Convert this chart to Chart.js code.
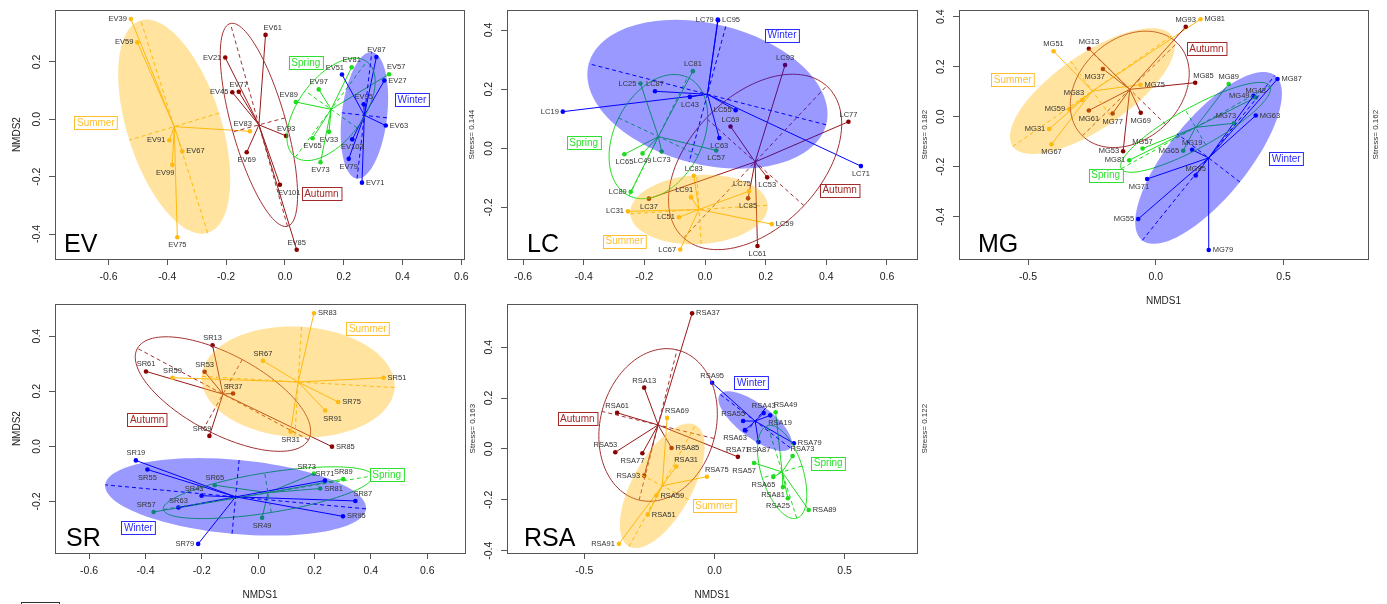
<!DOCTYPE html>
<html>
<head>
<meta charset="utf-8">
<script src="https://cdn.jsdelivr.net/npm/chart.js@4.4.0/dist/chart.umd.min.js"></script>
<style>
    body { margin: 0; background: #fff; width: 1387px; height: 604px; overflow: hidden; position: relative; }
    canvas { position: absolute; }
    #stub { position: absolute; left: 21px; top: 602px; width: 37px; height: 10px; border: 1px solid #333; }
</style>
</head>
<body>
<div id="stub"></div>
<script>
// ---- data: NMDS scores per site, season code S=Summer A=Autumn P=Spring W=Winter ----
const EV_ID = ['EV39','EV59','EV91','EV67','EV99','EV75','EV83', 'EV61','EV21','EV45','EV77','EV69','EV93','EV101','EV85',
    'EV81','EV57','EV97','EV89','EV33','EV65','EV73', 'EV87','EV27','EV51','EV95','EV63','EV103','EV79','EV71'];
const EV_X = [-0.524,-0.502,-0.393,-0.349,-0.383,-0.366,-0.119, -0.066,-0.203,-0.179,-0.157,-0.130,0.004,-0.017,0.040,
    0.227,0.354,0.115,0.037,0.150,0.094,0.121, 0.311,0.338,0.194,0.268,0.343,0.229,0.217,0.262];
const EV_Y = [0.349,0.268,-0.073,-0.112,-0.159,-0.411,-0.042, 0.294,0.215,0.094,0.096,-0.115,-0.058,-0.228,-0.455,
    0.181,0.157,0.104,0.060,-0.044,-0.066,-0.150, 0.217,0.135,0.156,0.052,-0.022,-0.070,-0.138,-0.221];
const EV_SEASON = 'SSSSSSS AAAAAAAA PPPPPPP WWWWWWWW';

const LC_ID = ['LC79','LC95','LC87','LC43','LC19','LC55','LC63','LC71', 'LC81','LC25','LC65','LC49','LC73','LC89','LC57',
    'LC83','LC91','LC31','LC51','LC67','LC75','LC59', 'LC93','LC69','LC77','LC53','LC85','LC61','LC37'];
const LC_X = [0.042,0.043,-0.165,-0.050,-0.469,0.101,0.047,0.514, -0.040,-0.213,-0.266,-0.206,-0.143,-0.245,0.037,
    -0.037,-0.046,-0.254,-0.086,-0.082,0.145,0.220, 0.264,0.084,0.473,0.205,0.142,0.173,-0.185];
const LC_Y = [0.435,0.433,0.193,0.174,0.124,0.129,0.035,-0.060, 0.261,0.219,-0.020,-0.017,-0.011,-0.147,-0.007,
    -0.093,-0.165,-0.213,-0.233,-0.342,-0.145,-0.256, 0.282,0.074,0.090,-0.098,-0.169,-0.330,-0.170];
const LC_SEASON = 'WWWWWWWW PPPPPPP SSSSSSS AAAAAAA';

const MG_ID = ['MG51','MG83','MG59','MG31','MG67','MG75','MG81', 'MG13','MG37','MG61','MG77','MG69','MG53','MG93','MG85',
    'MG57','MG81','MG89','MG65','MG43','MG73', 'MG87','MG49','MG63','MG19','MG95','MG79','MG71','MG55'];
const MG_X = [-0.400,-0.288,-0.339,-0.417,-0.408,-0.060,0.175, -0.262,-0.207,-0.262,-0.169,-0.059,-0.128,0.117,0.154,
    -0.052,-0.104,0.285,0.107,0.391,0.306, 0.476,0.382,0.391,0.142,0.156,0.207,-0.034,-0.069];
const MG_Y = [0.262,0.067,0.030,-0.049,-0.110,0.128,0.390, 0.272,0.191,0.025,0.013,0.016,-0.138,0.360,0.136,
    -0.127,-0.174,0.131,-0.136,0.077,-0.026, 0.151,0.084,0.005,-0.132,-0.235,-0.533,-0.249,-0.409];
const MG_SEASON = 'SSSSSSS AAAAAAAA PPPPPP WWWWWWWW';

const SR_ID = ['SR13','SR61','SR53','SR37','SR69','SR85', 'SR83','SR67','SR51','SR75','SR91','SR31','SR59',
    'SR73','SR89','SR65','SR81','SR57','SR49', 'SR19','SR55','SR43','SR63','SR71','SR87','SR95','SR79'];
const SR_X = [-0.162,-0.398,-0.190,-0.089,-0.173,0.262, 0.198,0.017,0.445,0.284,0.238,0.115,-0.304,
    0.198,0.302,-0.154,0.220,-0.371,0.014, -0.434,-0.393,-0.201,-0.283,0.237,0.345,0.301,-0.213];
const SR_Y = [0.367,0.272,0.271,0.192,0.038,-0.001, 0.483,0.311,0.249,0.161,0.130,0.053,0.249,
    -0.099,-0.119,-0.141,-0.153,-0.238,-0.259, -0.051,-0.084,-0.179,-0.222,-0.124,-0.198,-0.254,-0.354];
const SR_SEASON = 'AAAAAA SSSSSSS PPPPPP WWWWWWWW';

const RSA_ID = ['RSA37','RSA13','RSA61','RSA53','RSA77','RSA85','RSA93','RSA71', 'RSA69','RSA31','RSA59','RSA51','RSA91','RSA75',
    'RSA95','RSA43','RSA19','RSA55','RSA63','RSA87','RSA79', 'RSA49','RSA73','RSA57','RSA65','RSA81','RSA25','RSA89'];
const RSA_X = [-0.086,-0.270,-0.374,-0.381,-0.277,-0.165,-0.270,0.090, -0.182,-0.147,-0.223,-0.256,-0.367,-0.029,
    -0.009,0.189,0.214,0.110,0.117,0.169,0.305, 0.235,0.300,0.152,0.226,0.263,0.282,0.362];
const RSA_Y = [0.533,0.241,0.142,-0.013,-0.017,0.004,-0.105,-0.031, 0.122,-0.069,-0.183,-0.258,-0.373,-0.109,
    0.260,0.141,0.132,0.110,0.074,0.027,0.022, 0.144,-0.028,-0.055,-0.110,-0.150,-0.194,-0.240];
const RSA_SEASON = 'AAAAAAAA SSSSSS WWWWWWW PPPPPPP';

const STRESS = { EV: 0.144, LC: 0.182, MG: 0.162, SR: 0.163, RSA: 0.122 };

// tick labels
const TICKS_02 = [-0.6, -0.4, -0.2, 0.0, 0.2, 0.4, 0.6];
const TICKS_05 = [-0.5, 0.0, 0.5];
const EV_YTICKS = [-0.4, -0.2, 0.0, 0.2];
const LC_YTICKS = [-0.2, 0.0, 0.2, 0.4];
const MG_YTICKS = [-0.4, -0.2, 0.0, 0.2, 0.4];
const SR_YTICKS = [-0.2, 0.0, 0.2, 0.4];
const RSA_YTICKS = [-0.4, -0.2, 0.0, 0.2, 0.4];

// ---- layout: where each site label sits relative to its point ----
const EV_SIDE = 'l l l r bl b tl  tr l l t b t br t  t tr t tl b b b  t r tl t r b b r';
const LC_SIDE = 'l r t b l l b b  t l b b b l b  t tl l l l tl r  t t t b b b b';
const MG_SIDE = 't tl l l b r r  t bl b b b l t tr  t l t l t tl  r l r t t r bl l';
const SR_SIDE = 't t t t tl r  r t r r br b t  tl t t r tl b  t b tl t t tr r l';
const RSA_SIDE = 'r t t tl bl r l t  tr tr r r l tr  t t br tl bl b r  tr tr bl bl bl bl r';

const SEASONS = {
    S: { name: 'Summer', col: '#FFB90F', fill: 'rgba(255,185,15,0.4)', text: '#FFBE30' },
    A: { name: 'Autumn', col: '#8B0000', line: '#981818', ring: '#A33030', text: '#A52A2A' },
    P: { name: 'Spring', col: '#1EDC1E', text: '#2EE02E' },
    W: { name: 'Winter', col: '#0000FF', fill: 'rgba(0,0,255,0.4)', text: '#2A2AFF' }
};
const ELLIPSE_SCALE = 1.44;
const FONT = '"Liberation Sans", Arial, Helvetica, sans-serif';

const PANELS = [
    { key: 'EV', ids: EV_ID, xs: EV_X, ys: EV_Y, season: EV_SEASON, side: EV_SIDE,
      box: [55, 5, 464, 259], xr: [-0.782, 0.609], yr: [-0.487, 0.380], xt: TICKS_02, yt: EV_YTICKS,
      groups: { S: [-0.643, -0.013], A: [0.124, -0.259], P: [0.071, 0.198], W: [0.432, 0.069] },
      letter: 9, ytitle: true, xtitle: false },
    { key: 'LC', ids: LC_ID, xs: LC_X, ys: LC_Y, season: LC_SEASON, side: LC_SIDE,
      box: [507, 5, 917, 259], xr: [-0.653, 0.699], yr: [-0.374, 0.467], xt: TICKS_02, yt: LC_YTICKS,
      groups: { W: [0.254, 0.383], P: [-0.400, 0.020], S: [-0.266, -0.314], A: [0.444, -0.141] },
      letter: 20, ytitle: false, xtitle: false },
    { key: 'MG', ids: MG_ID, xs: MG_X, ys: MG_Y, season: MG_SEASON, side: MG_SIDE,
      box: [959, 5, 1368, 259], xr: [-0.770, 0.830], yr: [-0.569, 0.426], xt: TICKS_05, yt: MG_YTICKS,
      groups: { S: [-0.560, 0.148], P: [-0.196, -0.234], A: [0.198, 0.273], W: [0.510, -0.167] },
      letter: 19, ytitle: false, xtitle: true },
    { key: 'SR', ids: SR_ID, xs: SR_X, ys: SR_Y, season: SR_SEASON, side: SR_SIDE,
      box: [55, 299, 465, 553], xr: [-0.721, 0.734], yr: [-0.387, 0.516], xt: TICKS_02, yt: SR_YTICKS,
      groups: { S: [0.389, 0.428], A: [-0.394, 0.097], P: [0.456, -0.102], W: [-0.425, -0.295] },
      letter: 11, ytitle: true, xtitle: true },
    { key: 'RSA', ids: RSA_ID, xs: RSA_X, ys: RSA_Y, season: RSA_SEASON, side: RSA_SIDE,
      box: [507, 299, 917, 553], xr: [-0.797, 0.778], yr: [-0.409, 0.569], xt: TICKS_05, yt: RSA_YTICKS,
      groups: { A: [-0.527, 0.118], W: [0.142, 0.260], P: [0.437, -0.056], S: [-0.001, -0.223] },
      letter: 17, ytitle: false, xtitle: true }
];

// covariance ellipse around the group centroid
function ellipseOf(pts) {
    const n = pts.length;
    const mx = pts.reduce((s, p) => s + p.x, 0) / n;
    const my = pts.reduce((s, p) => s + p.y, 0) / n;
    let sxx = 0, syy = 0, sxy = 0;
    pts.forEach(p => {
        sxx += (p.x - mx) * (p.x - mx);
        syy += (p.y - my) * (p.y - my);
        sxy += (p.x - mx) * (p.y - my);
    });
    sxx /= n - 1; syy /= n - 1; sxy /= n - 1;
    const tr = sxx + syy, det = sxx * syy - sxy * sxy;
    const disc = Math.sqrt(Math.max(tr * tr / 4 - det, 0));
    const l1 = tr / 2 + disc, l2 = Math.max(tr / 2 - disc, 0);
    const th = Math.abs(sxy) > 1e-12 ? Math.atan2(l1 - sxx, sxy) : (sxx >= syy ? 0 : Math.PI / 2);
    return { cx: mx, cy: my, a: ELLIPSE_SCALE * Math.sqrt(l1), b: ELLIPSE_SCALE * Math.sqrt(l2), th: th };
}

function groupPoints(p) {
    const codes = p.season.replace(/ /g, '').split('');
    const sides = p.side.trim().split(/\s+/);
    const out = {};
    codes.forEach((c, i) => {
        (out[c] = out[c] || []).push({ x: p.xs[i], y: p.ys[i], id: p.ids[i], side: sides[i] });
    });
    return out;
}

function nmdsPlugin(p, groups) {
    const ells = {};
    Object.keys(groups).forEach(k => { ells[k] = ellipseOf(groups[k]); });

    function toPx(chart, x, y) {
        return [chart.scales.x.getPixelForValue(x), chart.scales.y.getPixelForValue(y)];
    }
    function clip(chart, ctx) {
        const a = chart.chartArea;
        ctx.beginPath();
        ctx.rect(a.left, a.top, a.right - a.left, a.bottom - a.top);
        ctx.clip();
    }
    function ellipsePath(chart, ctx, e) {
        ctx.beginPath();
        for (let i = 0; i <= 120; i++) {
            const t = i / 120 * Math.PI * 2;
            const ex = e.cx + e.a * Math.cos(t) * Math.cos(e.th) - e.b * Math.sin(t) * Math.sin(e.th);
            const ey = e.cy + e.a * Math.cos(t) * Math.sin(e.th) + e.b * Math.sin(t) * Math.cos(e.th);
            const q = toPx(chart, ex, ey);
            if (i === 0) ctx.moveTo(q[0], q[1]); else ctx.lineTo(q[0], q[1]);
        }
        ctx.closePath();
    }
    function axes(chart, ctx, e, col) {
        const c = Math.cos(e.th), s = Math.sin(e.th);
        const segs = [
            [e.cx - e.a * c, e.cy - e.a * s, e.cx + e.a * c, e.cy + e.a * s],
            [e.cx + e.b * s, e.cy - e.b * c, e.cx - e.b * s, e.cy + e.b * c]
        ];
        ctx.strokeStyle = col;
        ctx.lineWidth = 1;
        ctx.setLineDash([4, 3]);
        segs.forEach(g => {
            const a = toPx(chart, g[0], g[1]), b = toPx(chart, g[2], g[3]);
            ctx.beginPath(); ctx.moveTo(a[0], a[1]); ctx.lineTo(b[0], b[1]); ctx.stroke();
        });
        ctx.setLineDash([]);
    }

    return {
        id: 'nmds_' + p.key,
        beforeDatasetsDraw(chart) {
            const ctx = chart.ctx;
            ctx.save();
            clip(chart, ctx);
            Object.keys(groups).forEach(k => {
                const e = ells[k], st = SEASONS[k];
                const c = toPx(chart, e.cx, e.cy);
                ctx.strokeStyle = st.line || st.col;
                ctx.lineWidth = 1;
                groups[k].forEach(pt => {
                    const q = toPx(chart, pt.x, pt.y);
                    ctx.beginPath(); ctx.moveTo(c[0], c[1]); ctx.lineTo(q[0], q[1]); ctx.stroke();
                });
            });
            ctx.restore();
        },
        afterDatasetsDraw(chart) {
            const ctx = chart.ctx;
            ctx.save();
            clip(chart, ctx);
            // open ellipses first, translucent filled ones on top
            ['A', 'P'].forEach(k => {
                if (!ells[k]) return;
                const st = SEASONS[k];
                ellipsePath(chart, ctx, ells[k]);
                ctx.strokeStyle = st.ring || st.col;
                ctx.lineWidth = 1;
                ctx.stroke();
                axes(chart, ctx, ells[k], st.ring || st.col);
            });
            ['S', 'W'].forEach(k => {
                if (!ells[k]) return;
                const st = SEASONS[k];
                ellipsePath(chart, ctx, ells[k]);
                ctx.fillStyle = st.fill;
                ctx.fill();
                axes(chart, ctx, ells[k], st.col);
            });
            ctx.restore();
        },
        afterDraw(chart) {
            const ctx = chart.ctx, a = chart.chartArea;
            ctx.save();
            // frame
            ctx.strokeStyle = '#555';
            ctx.lineWidth = 1;
            ctx.strokeRect(Math.round(a.left) + 0.5, Math.round(a.top) + 0.5,
                Math.round(a.right - a.left), Math.round(a.bottom - a.top));

            // tick labels
            ctx.fillStyle = '#222';
            ctx.font = '10.5px ' + FONT;
            ctx.textAlign = 'center';
            ctx.textBaseline = 'middle';
            p.xt.forEach(v => {
                ctx.fillText(v.toFixed(1), chart.scales.x.getPixelForValue(v), a.bottom + 18);
            });
            p.yt.forEach(v => {
                ctx.save();
                ctx.translate(a.left - 17.5, chart.scales.y.getPixelForValue(v));
                ctx.rotate(-Math.PI / 2);
                ctx.fillText(v.toFixed(1), 0, 0);
                ctx.restore();
            });

            // axis titles
            ctx.font = '10px ' + FONT;
            if (p.xtitle) ctx.fillText('NMDS1', (a.left + a.right) / 2, a.bottom + 42);
            if (p.ytitle) {
                ctx.save();
                ctx.translate(a.left - 37.5, (a.top + a.bottom) / 2);
                ctx.rotate(-Math.PI / 2);
                ctx.fillText('NMDS2', 0, 0);
                ctx.restore();
            }
            // stress
            ctx.save();
            ctx.fillStyle = '#333';
            ctx.font = '8px ' + FONT;
            ctx.translate(a.right + 8, (a.top + a.bottom) / 2);
            ctx.rotate(-Math.PI / 2);
            ctx.fillText('Stress= ' + STRESS[p.key], 0, 0);
            ctx.restore();

            // site labels
            ctx.fillStyle = '#333';
            ctx.font = '7.5px ' + FONT;
            const off = {
                l: [-4, 0, 'right'], r: [4, 0, 'left'], t: [0, -7, 'center'], b: [0, 8, 'center'],
                tl: [2, -7, 'right'], tr: [-2, -7, 'left'], bl: [2, 8, 'right'], br: [-2, 8, 'left']
            };
            Object.keys(groups).forEach(k => {
                groups[k].forEach(pt => {
                    const q = toPx(chart, pt.x, pt.y), o = off[pt.side] || off.t;
                    ctx.textAlign = o[2];
                    ctx.fillText(pt.id, q[0] + o[0], q[1] + o[1]);
                });
            });

            // season labels in boxes
            ctx.font = '10px ' + FONT;
            ctx.textAlign = 'center';
            Object.keys(p.groups).forEach(k => {
                const st = SEASONS[k], g = p.groups[k];
                const q = toPx(chart, g[0], g[1]);
                const w = ctx.measureText(st.name).width + 5, h = 13;
                const x0 = Math.round(q[0] - w / 2) + 0.5, y0 = Math.round(q[1] - h / 2) + 0.5;
                ctx.fillStyle = '#fff';
                ctx.fillRect(x0, y0, w, h);
                ctx.strokeStyle = st.text;
                ctx.lineWidth = 1;
                ctx.strokeRect(x0, y0, w, h);
                ctx.fillStyle = st.text;
                ctx.fillText(st.name, q[0], q[1] + 0.5);
            });

            // panel letter
            ctx.fillStyle = '#000';
            ctx.font = '25px ' + FONT;
            ctx.textAlign = 'left';
            ctx.textBaseline = 'alphabetic';
            ctx.fillText(p.key, a.left + p.letter, a.bottom - 7);
            ctx.restore();
        }
    };
}

function makePanel(p) {
    const W = p.box[2] - p.box[0], H = p.box[3] - p.box[1];
    const cv = document.createElement('canvas');
    cv.width = W + 80;
    cv.height = H + 55;
    cv.style.left = (p.box[0] - 60) + 'px';
    cv.style.top = (p.box[1] - 5) + 'px';
    document.body.appendChild(cv);

    const groups = groupPoints(p);
    const datasets = Object.keys(groups).map(k => ({
        label: SEASONS[k].name,
        data: groups[k].map(pt => ({ x: pt.x, y: pt.y })),
        pointRadius: 2.3,
        pointBackgroundColor: SEASONS[k].col,
        pointBorderWidth: 0,
        showLine: false
    }));

    const gridOpts = { display: true, drawOnChartArea: false, drawTicks: true, tickLength: 6, color: '#555' };
    new Chart(cv, {
        type: 'scatter',
        data: { datasets: datasets },
        options: {
            responsive: false,
            animation: false,
            devicePixelRatio: 1,
            layout: { padding: { left: 0, right: 20, top: 5, bottom: 0 } },
            plugins: { legend: { display: false }, tooltip: { enabled: false } },
            scales: {
                x: {
                    type: 'linear', min: p.xr[0], max: p.xr[1],
                    grid: gridOpts, border: { display: false },
                    ticks: { color: 'rgba(0,0,0,0)', autoSkip: false },
                    afterBuildTicks: s => { s.ticks = p.xt.map(v => ({ value: v })); },
                    afterFit: s => { s.height = 50; }
                },
                y: {
                    type: 'linear', min: p.yr[0], max: p.yr[1],
                    grid: gridOpts, border: { display: false },
                    ticks: { color: 'rgba(0,0,0,0)', autoSkip: false },
                    afterBuildTicks: s => { s.ticks = p.yt.map(v => ({ value: v })); },
                    afterFit: s => { s.width = 60; }
                }
            }
        },
        plugins: [nmdsPlugin(p, groups)]
    });
}

PANELS.forEach(makePanel);
</script>
</body>
</html>
